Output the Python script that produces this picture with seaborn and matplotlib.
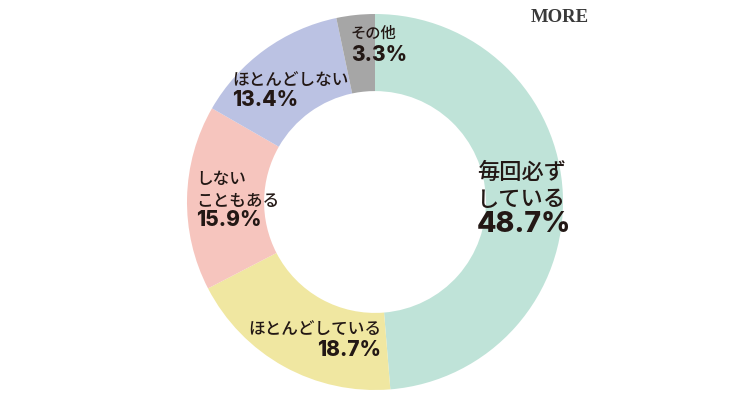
import seaborn as sns
import matplotlib.pyplot as plt

# survey answers, clockwise from 12 o'clock
labels = ['毎回必ず\nしている', 'ほとんどしている', 'しない\nこともある', 'ほとんどしない', 'その他']
pct_labels = ['48.7%', '18.7%', '15.9%', '13.4%', '3.3%']
values = [48.7, 18.7, 15.9, 13.4, 3.3]
colors = ['#bfe3d8', '#f0e7a1', '#f6c5be', '#bbc2e3', '#a6a6a6']

sns.set_theme(style='white')
plt.rcParams['font.family'] = ['Noto Sans CJK JP', 'DejaVu Sans']

fig = plt.figure(figsize=(7.5, 4.05), dpi=100)
ax = fig.add_axes([0, 0, 1, 1])

ax.pie(values, colors=colors, startangle=90, counterclock=False,
       radius=1.0, wedgeprops=dict(width=0.41, linewidth=0))

# circle: centre (375, 202) px, radius 188 px
R = 188.0
ax.set_xlim(-375 / R, 375 / R)
ax.set_ylim(-(405 - 202) / R, 202 / R)
ax.set_aspect('auto')
ax.axis('off')

txt = '#231815'

def px(x, y):
    return (x - 375) / R, (202 - y) / R

# label layout: (name pos, pct pos, align, name size, pct size)
layout = [
    ((477, 186), (477, 225), 'left', 16, 20.5),
    ((381, 329), (381, 350), 'right', 12, 15),
    ((196, 190), (196, 220), 'left', 12, 15),
    ((232, 80), (232, 100), 'left', 12, 15),
    ((351, 33), (351, 55), 'left', 11, 15),
]

for name, pct, (npos, ppos, ha, ns, ps) in zip(labels, pct_labels, layout):
    ax.text(*px(*npos), name, ha=ha, va='center', fontsize=ns,
            fontweight='medium', color=txt, linespacing=1.25)
    ax.text(*px(*ppos), pct, ha=ha, va='center', fontsize=ps,
            family=['Inter', 'DejaVu Sans'], fontweight='heavy', color=txt)

ax.text(*px(560, 17), 'MORE', ha='center', va='center', fontsize=13.5,
        family='Liberation Serif', fontweight='bold', color='#3a3a3a')

fig.savefig('out.png', dpi=100, facecolor='white')
